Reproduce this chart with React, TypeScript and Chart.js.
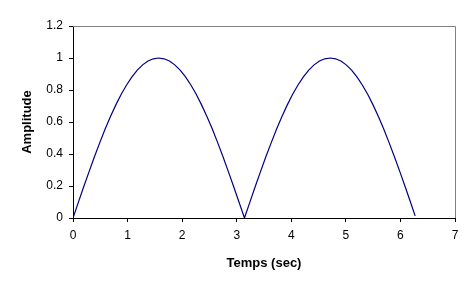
import React, { useEffect, useRef } from "react";
import { Chart, registerables } from "chart.js";

Chart.register(...registerables);

const timeValues = [
  0, 0.098, 0.196, 0.295, 0.393, 0.491, 0.589, 0.687, 0.785, 0.884, 0.982, 1.08, 1.178, 1.276, 1.374, 1.473,
  1.571, 1.669, 1.767, 1.865, 1.963, 2.062, 2.16, 2.258, 2.356, 2.454, 2.553, 2.651, 2.749, 2.847, 2.945, 3.043,
  3.142, 3.24, 3.338, 3.436, 3.534, 3.633, 3.731, 3.829, 3.927, 4.025, 4.123, 4.222, 4.32, 4.418, 4.516, 4.614,
  4.712, 4.811, 4.909, 5.007, 5.105, 5.203, 5.301, 5.4, 5.498, 5.596, 5.694, 5.792, 5.89, 5.989, 6.087, 6.185,
  6.27,
];

const amplitudeValues = [
  0, 0.098, 0.195, 0.29, 0.383, 0.471, 0.556, 0.634, 0.707, 0.773, 0.831, 0.882, 0.924, 0.957, 0.981, 0.995,
  1, 0.995, 0.981, 0.957, 0.924, 0.882, 0.831, 0.773, 0.707, 0.634, 0.556, 0.471, 0.383, 0.29, 0.195, 0.098,
  0, 0.098, 0.195, 0.29, 0.383, 0.471, 0.556, 0.634, 0.707, 0.773, 0.831, 0.882, 0.924, 0.957, 0.981, 0.995,
  1, 0.995, 0.981, 0.957, 0.924, 0.882, 0.831, 0.773, 0.707, 0.634, 0.556, 0.471, 0.383, 0.29, 0.195, 0.098,
  0.013,
];

const xTitle = "Temps (sec)";
const yTitle = "Amplitude";

const FONT = "'Liberation Sans', Arial, sans-serif";

const borderPlugin = {
  id: "plotBorder",
  afterDraw(chart: any) {
    const { ctx, chartArea } = chart;
    ctx.save();
    ctx.strokeStyle = "#808080";
    ctx.lineWidth = 1;
    ctx.beginPath();
    ctx.moveTo(chartArea.left, chartArea.top + 0.5);
    ctx.lineTo(chartArea.right + 0.5, chartArea.top + 0.5);
    ctx.lineTo(chartArea.right + 0.5, chartArea.bottom);
    ctx.stroke();
    ctx.restore();
  },
};

export default function App() {
  const ref = useRef<HTMLCanvasElement | null>(null);

  useEffect(() => {
    if (!ref.current) return;
    const data = timeValues.map((t, i) => ({ x: t, y: amplitudeValues[i] }));
    const chart = new Chart(ref.current, {
      type: "line",
      data: {
        datasets: [
          {
            data,
            borderColor: "#000080",
            borderWidth: 1.2,
            pointRadius: 0,
            tension: 0,
            fill: false,
          },
        ],
      },
      options: {
        animation: false,
        responsive: false,
        events: [],
        layout: { padding: { top: 26, right: 20, left: 0, bottom: 0 } },
        plugins: { legend: { display: false }, tooltip: { enabled: false } },
        scales: {
          x: {
            type: "linear",
            min: 0,
            max: 7,
            ticks: {
              stepSize: 1,
              color: "#000",
              padding: 6,
              font: { family: FONT, size: 12 },
              maxRotation: 0,
            },
            grid: { drawOnChartArea: false, drawTicks: true, tickLength: 4, color: "#000" },
            border: { display: true, color: "#000", width: 1 },
            title: {
              display: true,
              text: xTitle,
              color: "#000",
              font: { family: FONT, size: 13, weight: "bold" },
              padding: { top: 0, bottom: 21 },
            },
            afterFit(scale: any) {
              scale.height = 74;
            },
          },
          y: {
            type: "linear",
            min: 0,
            max: 1.2,
            ticks: {
              stepSize: 0.2,
              color: "#000",
              padding: 6,
              font: { family: FONT, size: 12 },
              callback: (v: any) => String(Number(Number(v).toFixed(1))),
            },
            grid: { drawOnChartArea: false, drawTicks: true, tickLength: 4, color: "#000" },
            border: { display: true, color: "#000", width: 1 },
            title: {
              display: true,
              text: yTitle,
              color: "#000",
              font: { family: FONT, size: 13, weight: "bold" },
              padding: { top: 20, bottom: 0 },
            },
            afterFit(scale: any) {
              scale.width = 73;
            },
          },
        },
      },
      plugins: [borderPlugin],
    });
    return () => chart.destroy();
  }, []);

  return (
    <div style={{ position: "absolute", left: 0, top: 0, width: 475, height: 292, background: "#fff" }}>
      <canvas ref={ref} width={475} height={292} style={{ width: 475, height: 292, display: "block" }} />
    </div>
  );
}
